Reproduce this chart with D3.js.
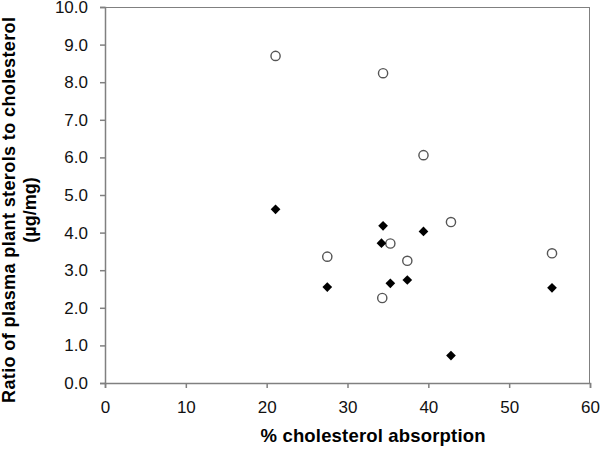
<!DOCTYPE html>
<html>
<head>
<meta charset="utf-8">
<script src="https://cdn.jsdelivr.net/npm/d3@7"></script>
<style>
  body { margin: 0; background: #fff; }
  text { font-family: "Liberation Sans", Arial, sans-serif; }
</style>
</head>
<body>
<div id="chart"></div>
<script>
// data
var openX = [21.1, 34.4, 39.4, 42.8, 35.3, 27.5, 37.4, 34.3, 55.3];
var openY = [8.70, 8.24, 6.06, 4.28, 3.71, 3.36, 3.25, 2.26, 3.45];
var filledX = [21.1, 34.4, 39.4, 34.2, 27.5, 35.3, 37.4, 55.3, 42.8];
var filledY = [4.62, 4.18, 4.03, 3.72, 2.55, 2.65, 2.74, 2.53, 0.73];
var xTicks = [0, 10, 20, 30, 40, 50, 60];
var yTicks = [0, 1, 2, 3, 4, 5, 6, 7, 8, 9, 10];

var svgWidth = 601, svgHeight = 450;
var margin = {top: 7, right: 11, bottom: 67, left: 105};
var width = svgWidth - margin.left - margin.right;
var height = svgHeight - margin.top - margin.bottom;

var svg = d3.select("#chart").append("svg")
  .attr("width", svgWidth)
  .attr("height", svgHeight);

var g = svg.append("g")
  .attr("transform", `translate(${margin.left}, ${margin.top})`);

var x = d3.scaleLinear().domain([0, 60]).range([0, width]);
var y = d3.scaleLinear().domain([0, 10]).range([height, 0]);

// box lines on top and right
g.append("line").attr("x1", 0).attr("x2", width).attr("y1", 0.5).attr("y2", 0.5)
  .attr("stroke", "#808080").attr("stroke-width", 1);
g.append("line").attr("x1", width - 0.5).attr("x2", width - 0.5).attr("y1", 0).attr("y2", height)
  .attr("stroke", "#808080").attr("stroke-width", 1);

var xAxis = g.append("g")
  .attr("transform", `translate(0, ${height})`)
  .call(d3.axisBottom(x).tickValues(xTicks).tickSize(5).tickPadding(13).tickFormat(d3.format("d")));

var yAxis = g.append("g")
  .call(d3.axisLeft(y).tickValues(yTicks).tickSize(5).tickPadding(12).tickFormat(d3.format(".1f")));

[xAxis, yAxis].forEach(function(a) {
  a.selectAll("path, line").attr("stroke", "#808080").attr("stroke-width", 1.5);
  a.selectAll("text").attr("fill", "#111").style("font-size", "17px")
    .style("font-family", "'Liberation Sans', Arial, sans-serif");
});

// open circles
g.selectAll("circle.open")
  .data(openX.map((v, i) => [v, openY[i]]))
  .enter().append("circle")
  .attr("class", "open")
  .attr("cx", d => x(d[0]))
  .attr("cy", d => y(d[1]))
  .attr("r", 4.6)
  .attr("fill", "#fff")
  .attr("stroke", "#555")
  .attr("stroke-width", 1.4);

// filled diamonds
var diamond = d3.symbol().type(d3.symbolDiamond2).size(60);
g.selectAll("path.filled")
  .data(filledX.map((v, i) => [v, filledY[i]]))
  .enter().append("path")
  .attr("class", "filled")
  .attr("d", diamond)
  .attr("transform", d => `translate(${x(d[0])}, ${y(d[1])})`)
  .attr("fill", "#000");

// axis titles
svg.append("text")
  .attr("x", 373).attr("y", 442)
  .attr("text-anchor", "middle")
  .style("font-size", "18.5px").style("font-weight", "bold")
  .attr("textLength", 225)
  .text("% cholesterol absorption");

var yt = svg.append("text")
  .attr("transform", "translate(0, 210) rotate(-90)")
  .attr("text-anchor", "middle")
  .style("font-size", "18px").style("font-weight", "bold");
yt.append("tspan").attr("x", 0).attr("y", 15).attr("textLength", 386)
  .text("Ratio of plasma plant sterols to cholesterol");
yt.append("tspan").attr("x", 0).attr("y", 36).text("(µg/mg)");
</script>
</body>
</html>
